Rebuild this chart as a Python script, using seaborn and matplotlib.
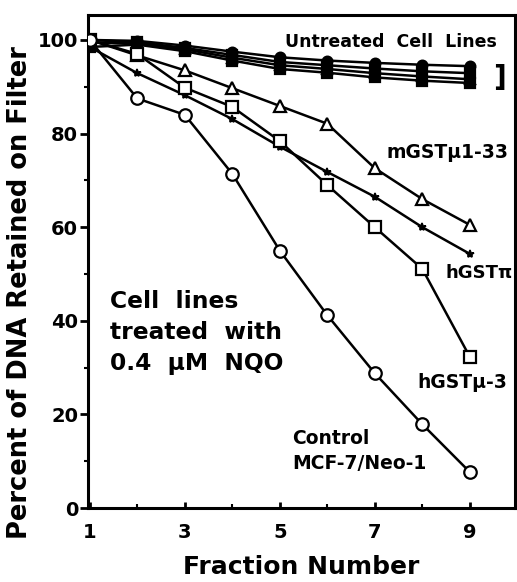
import matplotlib
matplotlib.use("Agg")
import matplotlib.pyplot as plt
import seaborn as sns
import pandas as pd
from matplotlib.ticker import MultipleLocator

fractions = [1, 2, 3, 4, 5, 6, 7, 8, 9]

control = [100, 87.5, 84.0, 71.4, 55.0, 41.2, 28.8, 17.9, 7.7]
hgst_mu3 = [100, 97.0, 89.8, 85.7, 78.4, 69.0, 60.0, 51.1, 32.3]
hgst_pi = [98.5, 92.9, 88.2, 83.1, 77.2, 71.8, 66.5, 60.0, 54.3]
mgst_mu133 = [100, 96.7, 93.5, 89.7, 85.9, 82.1, 72.6, 66.0, 60.5]

untreated_1 = [100, 99.8, 98.8, 97.5, 96.3, 95.6, 95.1, 94.7, 94.4]
untreated_2 = [100, 99.5, 98.3, 96.8, 95.3, 94.6, 93.9, 93.3, 92.9]
untreated_3 = [99.5, 99.2, 98.0, 96.2, 94.6, 93.8, 92.9, 92.2, 91.6]
untreated_4 = [98.5, 99.0, 97.6, 95.6, 93.8, 93.0, 92.0, 91.3, 90.8]

x_ticks = [1, 3, 5, 7, 9]
y_ticks = [0, 20, 40, 60, 80, 100]

sns.set_theme(style="ticks")
plt.rcParams['font.family'] = ['DejaVu Sans']
plt.rcParams['font.weight'] = 'bold'
plt.rcParams['text.color'] = 'black'
plt.rcParams['axes.labelcolor'] = 'black'
plt.rcParams['xtick.color'] = 'black'
plt.rcParams['ytick.color'] = 'black'

fig = plt.figure(figsize=(5.17, 5.82), dpi=100)
ax = fig.add_axes([0.170, 0.127, 0.826, 0.847])

lw = 1.8

def draw(vals, marker, face, ms, mew=1.6):
    df = pd.DataFrame({"Fraction": fractions, "Percent": vals})
    sns.lineplot(data=df, x="Fraction", y="Percent", ax=ax, color="black",
                 linewidth=lw, marker=marker, markersize=ms,
                 markerfacecolor=face, markeredgecolor="black",
                 markeredgewidth=mew, zorder=3)

draw(untreated_4, 's', 'black', 7)
draw(untreated_3, '^', 'black', 7)
draw(untreated_2, 's', 'black', 7)
draw(untreated_1, 'o', 'black', 7)
draw(hgst_pi, '*', 'black', 6, 1.2)
draw(mgst_mu133, '^', 'white', 9)
draw(hgst_mu3, 's', 'white', 9)
draw(control, 'o', 'white', 9)

ax.set_xlim(0.96, 9.95)
ax.set_ylim(0, 105.3)
ax.set_xticks(x_ticks)
ax.set_yticks(y_ticks)
ax.xaxis.set_minor_locator(MultipleLocator(1))
ax.yaxis.set_minor_locator(MultipleLocator(10))
ax.tick_params(axis='y', which='major', direction='out', length=6, width=2,
               labelsize=14, pad=1, colors='black')
ax.tick_params(axis='y', which='minor', direction='out', length=3, width=1.5)
ax.tick_params(axis='x', which='major', direction='in', length=4, width=2,
               labelsize=14, pad=11, colors='black')
ax.tick_params(axis='x', which='minor', direction='in', length=3, width=1.5)
for lab in ax.get_xticklabels() + ax.get_yticklabels():
    lab.set_fontweight('bold')

for s in ax.spines.values():
    s.set_linewidth(2.2)
    s.set_color('black')

ax.set_xlabel("Fraction Number", fontsize=18, fontweight='bold', labelpad=9,
              color='black')
ax.set_ylabel("Percent of DNA Retained on Filter", fontsize=18.5,
              fontweight='bold', color='black')
ax.yaxis.set_label_coords(-0.129, 0.438)

ax.text(5.1, 99.6, "Untreated  Cell  Lines", fontsize=12.5, fontweight='bold',
        ha='left', va='center')
ax.text(9.63, 91.9, "]", fontsize=20, fontweight='bold', ha='center', va='center')
ax.text(7.25, 75.9, "mGST\u03bc1-33", fontsize=13.5, fontweight='bold',
        ha='left', va='center')
ax.text(8.49, 50.2, "hGST\u03c0", fontsize=13, fontweight='bold',
        ha='left', va='center')
ax.text(7.9, 26.9, "hGST\u03bc-3", fontsize=13.5, fontweight='bold',
        ha='left', va='center')
ax.text(5.27, 12.2, "Control\nMCF-7/Neo-1", fontsize=13.5, fontweight='bold',
        ha='left', va='center', linespacing=1.4)
ax.text(1.42, 37.5, "Cell  lines\ntreated  with\n0.4  \u03bcM  NQO", fontsize=16.8,
        fontweight='bold', ha='left', va='center', linespacing=1.45)

fig.savefig("out.png", dpi=100)
